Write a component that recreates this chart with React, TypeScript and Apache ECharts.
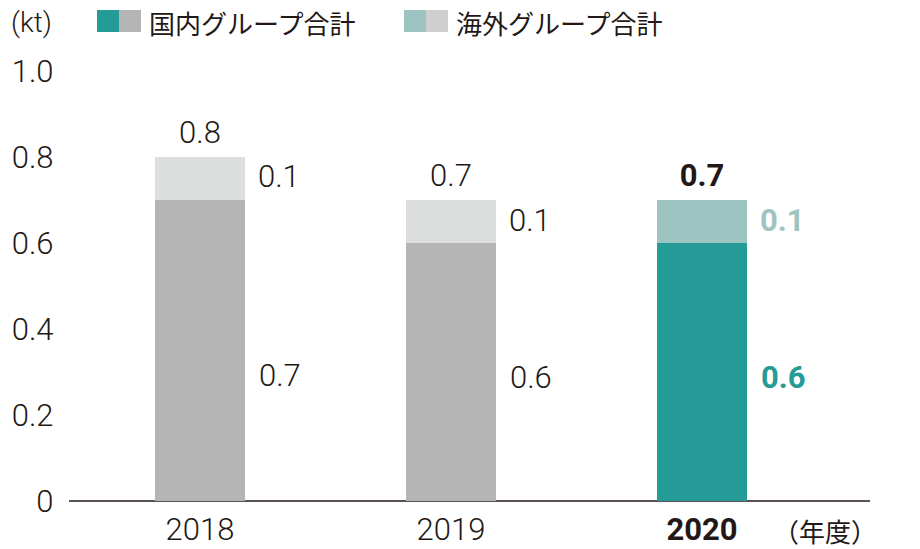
import React, { useEffect, useRef } from "react";
import * as echarts from "echarts";

const categories = ["2018", "2019", "2020"];
const domestic = [0.7, 0.6, 0.6];
const overseas = [0.1, 0.1, 0.1];
const totals = [0.8, 0.7, 0.7];
const legendNames = ["国内グループ合計", "海外グループ合計"];
const unitLabel = "(kt)";
const xUnitLabel = "（年度）";

const HIGHLIGHT = 2;
const TEXT = "#231815";
const TEAL = "#259B97";
const TEAL_LIGHT = "#9DC4C1";
const GRAY = "#B5B5B6";
const GRAY_LIGHT = "#DCDDDD";
const NUM_FONT = "Roboto, 'Liberation Sans', Arial, sans-serif";
const JP_FONT = "'Noto Sans CJK JP', sans-serif";
const NUM_SIZE = 31;

const domOffsets = [[0, 25], [0, 5], [0, 5]];
const ovsOffsets = [[0, -2], [0, -1], [0, -1]];

export default function App() {
  const ref = useRef<HTMLDivElement>(null);
  useEffect(() => {
    if (!ref.current) return;
    const chart = echarts.init(ref.current, null, { renderer: "svg" });
    const fmt = (v: number) => (v === 0 ? "0" : v.toFixed(1));
    const numLabel = (color: string, bold: boolean) => ({
      show: true,
      fontFamily: NUM_FONT,
      fontSize: NUM_SIZE,
      fontWeight: bold ? "bold" : 300,
      color,
    });
    const option: any = {
      animation: false,
      grid: { left: 74.5, right: 92.5, top: 71, bottom: 48 },
      xAxis: {
        type: "category",
        data: categories,
        axisLine: { show: false },
        axisTick: { show: false },
        axisLabel: {
          margin: 13,
          formatter: (v: string, idx: number) =>
            idx === HIGHLIGHT ? `{b|${v}}` : `{n|${v}}`,
          rich: {
            n: { fontFamily: NUM_FONT, fontSize: NUM_SIZE, fontWeight: 300, color: TEXT },
            b: { fontFamily: NUM_FONT, fontSize: NUM_SIZE, fontWeight: "bold", color: TEXT },
          },
        },
      },
      yAxis: {
        type: "value",
        min: 0,
        max: 1,
        interval: 0.2,
        axisLine: { show: false },
        axisTick: { show: false },
        splitLine: { show: false },
        axisLabel: {
          margin: 21,
          formatter: (v: number) => fmt(v),
          fontFamily: NUM_FONT,
          fontSize: NUM_SIZE,
          fontWeight: 300,
          color: TEXT,
          padding: [12, 0, 0, 0],
        },
      },
      series: [
        {
          name: legendNames[0],
          type: "bar",
          stack: "total",
          barWidth: 90,
          barGap: "-100%",
          data: domestic.map((v, i) => ({
            value: v,
            itemStyle: { color: i === HIGHLIGHT ? TEAL : GRAY },
            label: {
              ...numLabel(i === HIGHLIGHT ? TEAL : TEXT, i === HIGHLIGHT),
              position: "right",
              distance: 14,
              offset: domOffsets[i],
              formatter: () => fmt(v),
            },
          })),
        },
        {
          name: legendNames[1],
          type: "bar",
          stack: "total",
          barWidth: 90,
          barGap: "-100%",
          data: overseas.map((v, i) => ({
            value: v,
            itemStyle: { color: i === HIGHLIGHT ? TEAL_LIGHT : GRAY_LIGHT },
            label: {
              ...numLabel(i === HIGHLIGHT ? TEAL_LIGHT : TEXT, i === HIGHLIGHT),
              position: "right",
              distance: 13,
              offset: ovsOffsets[i],
              formatter: () => fmt(v),
            },
          })),
        },
        {
          name: "total",
          type: "bar",
          barWidth: 90,
          barGap: "-100%",
          silent: true,
          z: 1,
          data: totals.map((v, i) => ({
            value: v,
            itemStyle: { color: "transparent" },
            label: {
              ...numLabel(TEXT, i === HIGHLIGHT),
              position: "top",
              distance: 9,
              formatter: () => fmt(v),
            },
          })),
        },
      ],
      graphic: [
        {
          type: "line",
          shape: { x1: 69, y1: 501, x2: 870, y2: 501 },
          style: { stroke: TEXT, lineWidth: 1.5 },
        },
        {
          type: "text",
          x: 773,
          y: 530,
          style: {
            text: xUnitLabel,
            font: `26px ${JP_FONT}`,
            fill: TEXT,
            verticalAlign: "middle",
          },
        },
        {
          type: "text",
          x: 11,
          y: 22,
          style: {
            text: unitLabel,
            font: `300 28px ${NUM_FONT}`,
            fill: TEXT,
            verticalAlign: "middle",
          },
        },
        { type: "rect", shape: { x: 97, y: 10, width: 22, height: 22 }, style: { fill: TEAL } },
        { type: "rect", shape: { x: 119, y: 10, width: 22, height: 22 }, style: { fill: GRAY } },
        {
          type: "text",
          x: 149,
          y: 22,
          style: { text: legendNames[0], font: `26px ${JP_FONT}`, fill: TEXT, verticalAlign: "middle" },
        },
        { type: "rect", shape: { x: 404, y: 10, width: 22, height: 22 }, style: { fill: TEAL_LIGHT } },
        { type: "rect", shape: { x: 426, y: 10, width: 22, height: 22 }, style: { fill: "#CFCFD0" } },
        {
          type: "text",
          x: 456,
          y: 22,
          style: { text: legendNames[1], font: `26px ${JP_FONT}`, fill: TEXT, verticalAlign: "middle" },
        },
      ],
    };
    chart.setOption(option);
    return () => chart.dispose();
  }, []);
  return (
    <div
      ref={ref}
      style={{ position: "absolute", left: 0, top: 0, width: 920, height: 549, background: "#fff" }}
    />
  );
}
